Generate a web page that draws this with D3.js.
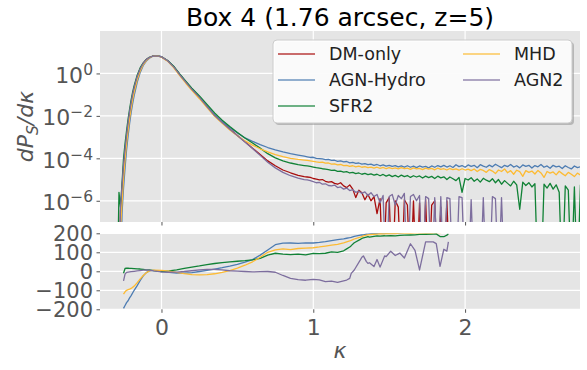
<!DOCTYPE html>
<html><head><meta charset="utf-8">
<script src="https://cdn.jsdelivr.net/npm/d3@7"></script>
<style>body{margin:0;background:#fff} svg{display:block;font-family:"DejaVu Sans",sans-serif}</style>
</head><body><svg id="c" width="587" height="370"></svg>
<script>
// ---------------- data ----------------
const titleText = "Box 4 (1.76 arcsec, z=5)";
const seriesNames = ["DM-only", "AGN-Hydro", "SFR2", "MHD", "AGN2"];
const seriesColors = ["#a80d0d", "#4d7cb2", "#118236", "#fdbb33", "#7d6e9e"];

const xTicks = [0, 1, 2];
const yTopTickExps = [0, -2, -4, -6];
const yBottomTicks = [-200, -100, 0, 100, 200];

// convergence grid of the PDF (core part)
const kappaCore = [-0.29,-0.28,-0.27,-0.26,-0.25,-0.24,-0.23,-0.22,-0.21,-0.20,
  -0.19,-0.18,-0.16,-0.14,-0.12,-0.10,-0.08,-0.06,-0.04,-0.02,
  0.00,0.04,0.08,0.12,0.16,0.20,0.25,0.30,0.35,0.40,
  0.45,0.50,0.55,0.60,0.65,0.70,0.75,0.80,0.85,0.90,
  0.94];
// convergence grid of the PDF (tail part)
const kappaTail = [0.96,0.98,1.00,1.02,1.04,1.06,1.08,1.10,1.12,1.14,
  1.16,1.18,1.20,1.22,1.24,1.26,1.28,1.30,1.32,1.34,
  1.36,1.38,1.40,1.42,1.44,1.46,1.48,1.50,1.52,1.54,
  1.56,1.58,1.60,1.62,1.64,1.66,1.68,1.70,1.72,1.74,
  1.76,1.78,1.80,1.82,1.84,1.86,1.88,1.90,1.92,1.94,
  1.96,1.98,2.00,2.02,2.04,2.06,2.08,2.10,2.12,2.14,
  2.16,2.18,2.20,2.22,2.24,2.26,2.28,2.30,2.32,2.34,
  2.36,2.38,2.40,2.42,2.44,2.46,2.48,2.50,2.52,2.54,
  2.56,2.58,2.60,2.62,2.64,2.66,2.68,2.70,2.72,2.74,
  2.76];

// log10(dP/dkappa); null = empty bin
const logPdfDMCore = [null,null,-6.5,-5.5,-4.4,-3.6,-2.95,-2.35,-1.85,-1.4,
  -1.0,-0.68,-0.15,0.22,0.48,0.65,0.75,0.81,0.83,0.82,
  0.78,0.60,0.32,-0.05,-0.40,-0.74,-1.12,-1.55,-1.97,-2.30,
  -2.62,-2.92,-3.22,-3.52,-3.82,-4.12,-4.35,-4.55,-4.68,-4.80,
  -4.86];
const logPdfAGNHydroCore = [null,null,null,-6.6,-5.4,-4.45,-3.6,-2.95,-2.35,-1.85,
  -1.42,-1.05,-0.42,0.05,0.38,0.58,0.72,0.80,0.83,0.83,
  0.79,0.61,0.33,-0.04,-0.39,-0.73,-1.11,-1.53,-1.94,-2.26,
  -2.55,-2.80,-3.04,-3.20,-3.35,-3.49,-3.60,-3.70,-3.78,-3.85,
  -3.90];
const logPdfSFR2Core = [null,-5.6,-6.3,-5.2,-4.0,-3.3,-2.7,-2.15,-1.68,-1.25,
  -0.88,-0.58,-0.08,0.27,0.50,0.66,0.76,0.81,0.83,0.82,
  0.78,0.61,0.34,-0.02,-0.36,-0.69,-1.06,-1.46,-1.86,-2.20,
  -2.50,-2.78,-3.04,-3.28,-3.52,-3.78,-3.98,-4.12,-4.22,-4.30,
  -4.34];
const logPdfMHDCore = [null,null,-7.3,-6.1,-4.95,-4.05,-3.3,-2.68,-2.12,-1.65,
  -1.22,-0.88,-0.30,0.12,0.42,0.61,0.73,0.80,0.83,0.82,
  0.77,0.58,0.28,-0.10,-0.46,-0.80,-1.19,-1.61,-2.02,-2.35,
  -2.66,-2.94,-3.18,-3.38,-3.55,-3.70,-3.82,-3.92,-4.00,-4.05,
  -4.08];
const logPdfAGN2Core = [null,null,-6.3,-5.3,-4.3,-3.55,-2.9,-2.3,-1.8,-1.36,
  -0.97,-0.66,-0.14,0.22,0.48,0.65,0.75,0.81,0.83,0.82,
  0.78,0.60,0.31,-0.06,-0.41,-0.75,-1.13,-1.56,-1.98,-2.31,
  -2.63,-2.93,-3.23,-3.54,-3.86,-4.18,-4.45,-4.66,-4.82,-4.93,
  -5.00];

const logPdfDMTail = [-4.88,-4.90,-4.95,-4.98,-5.02,-5.00,-5.08,-5.12,-5.10,-5.18,
  -5.22,-5.15,-5.30,-5.38,-5.25,-5.45,-5.85,-5.50,-5.62,-5.95,
  -5.70,-6.00,-5.80,-6.60,-5.90,null,-6.10,-5.85,null,-6.00,
  -6.30,null,-5.95,-6.20,null,-6.00,null,-6.10,null,-5.95,
  null,-6.20,-6.00,null,-6.30,null,-6.00,null,null,null,
  null,null,null,null,null,null,null,null,null,null,
  null,null,null,null,null,null,null,null,null,null,
  null,null,null,null,null,null,null,null,null,null,
  null,null,null,null,null,null,null,null,null,null,
  null];
const logPdfAGNHydroTail = [-3.93,-3.96,-3.95,-4.00,-4.01,-4.03,-4.06,-4.05,-4.10,-4.09,
  -4.14,-4.12,-4.17,-4.15,-4.21,-4.19,-4.24,-4.22,-4.27,-4.25,
  -4.30,-4.27,-4.33,-4.29,-4.35,-4.31,-4.37,-4.33,-4.38,-4.34,
  -4.40,-4.36,-4.41,-4.35,-4.42,-4.37,-4.44,-4.36,-4.41,-4.38,
  -4.45,-4.36,-4.42,-4.34,-4.40,-4.33,-4.41,-4.35,-4.43,-4.30,
  -4.39,-4.34,-4.42,-4.31,-4.38,-4.33,-4.44,-4.30,-4.37,-4.42,
  -4.32,-4.40,-4.28,-4.36,-4.44,-4.33,-4.39,-4.29,-4.41,-4.35,
  -4.45,-4.31,-4.38,-4.33,-4.46,-4.34,-4.40,-4.29,-4.42,-4.36,
  -4.47,-4.33,-4.40,-4.37,-4.48,-4.35,-4.43,-4.50,-4.36,-4.44,
  -4.40];
const logPdfSFR2Tail = [-4.36,-4.38,-4.41,-4.44,-4.46,-4.49,-4.51,-4.53,-4.57,-4.56,
  -4.61,-4.60,-4.65,-4.63,-4.69,-4.66,-4.72,-4.69,-4.75,-4.71,
  -4.77,-4.73,-4.79,-4.75,-4.82,-4.76,-4.84,-4.78,-4.86,-4.80,
  -4.88,-4.79,-4.86,-4.81,-4.90,-4.82,-4.88,-4.83,-4.93,-4.84,
  -4.91,-4.85,-4.95,-4.84,-4.92,-4.87,-5.00,-4.88,-4.96,-5.05,
  -4.90,-5.60,-4.95,-5.02,-4.91,-5.08,-4.97,-5.12,-4.94,-5.03,
  -5.10,-4.96,-5.15,-5.00,-5.22,-5.05,-5.18,-5.30,-5.08,-5.25,
  -6.40,-5.12,-5.28,-5.15,-5.35,-5.20,null,null,-5.22,-5.40,
  -5.18,-5.45,-5.25,-5.60,null,-5.30,-5.50,null,-5.35,null,
  -5.25];
const logPdfMHDTail = [-4.10,-4.12,-4.14,-4.17,-4.19,-4.18,-4.23,-4.22,-4.27,-4.26,
  -4.31,-4.29,-4.34,-4.33,-4.38,-4.35,-4.40,-4.37,-4.42,-4.39,
  -4.44,-4.41,-4.46,-4.42,-4.47,-4.43,-4.49,-4.44,-4.48,-4.45,
  -4.50,-4.44,-4.49,-4.46,-4.52,-4.45,-4.50,-4.47,-4.53,-4.46,
  -4.51,-4.47,-4.54,-4.46,-4.52,-4.49,-4.55,-4.48,-4.53,-4.50,
  -4.56,-4.49,-4.55,-4.51,-4.58,-4.50,-4.62,-4.52,-4.57,-4.66,
  -4.53,-4.60,-4.72,-4.55,-4.62,-4.50,-4.68,-4.58,-4.75,-4.56,
  -4.63,-4.85,-4.58,-4.66,-4.60,-4.74,-4.57,-4.69,-4.90,-4.62,
  -4.70,-4.64,-4.78,-4.61,-4.72,-4.82,-4.66,-4.75,-4.86,-4.70,
  -4.78];
const logPdfAGN2Tail = [-5.02,-5.05,-5.10,-5.15,-5.13,-5.22,-5.20,-5.28,-5.30,-5.26,
  -5.38,-5.35,-5.45,-5.40,-5.52,-5.48,-5.60,-5.55,-5.65,-5.58,
  -5.75,-5.62,-5.80,-5.70,-6.10,-5.75,null,-5.80,-5.70,-6.20,
  -5.75,-5.90,-5.65,null,-5.80,-5.70,-6.00,-5.75,null,-5.80,
  -5.90,null,-5.85,null,-5.80,null,-5.85,-5.90,null,null,
  -5.80,-5.85,null,null,-5.95,null,null,null,-5.85,null,
  null,-5.80,-5.90,null,-5.85,null,null,null,null,null,
  null,null,null,null,null,null,null,null,null,null,
  null,null,null,null,null,null,null,null,null,null,
  null];

// relative difference to DM-only (per cent)
const kappaRatio = [-0.25,-0.24,-0.23,-0.22,-0.21,-0.20,-0.18,-0.16,-0.14,-0.12,
  -0.10,-0.08,-0.05,0.00,0.05,0.10,0.15,0.20,0.25,0.30,
  0.35,0.40,0.45,0.50,0.55,0.60,0.65,0.70,0.75,0.80,
  0.85,0.90,0.95,1.00,1.04,1.08,1.12,1.16,1.20,1.22,
  1.24,1.25,1.27,1.31,1.32,1.33,1.35,1.36,1.37,1.40,
  1.42,1.44,1.47,1.48,1.51,1.54,1.57,1.60,1.64,1.67,
  1.70,1.74,1.79,1.81,1.835,1.86,1.88,1.89];
const ratioAGNHydro = [-195,-180,-165,-155,-140,-128,-100,-75,-48,-24,
  -7,2,5,-1,-6,-9,-10,-7,-1,5,
  12,19,27,36,48,62,85,112,140,148,
  149,147,150,149,152,156,162,167,171,174,
  177,179,184,190,191,192,195,196,197,199,
  200,201,202,201,203,204,203,205,206,205,
  207,208,207,209,208,210,209,211];
const ratioSFR2 = [-10,15,17,16,15,15,14,13,12,10,
  8,7,3,-2,2,8,15,22,28,35,
  41,46,50,53,56,60,68,85,95,90,
  88,90,86,94,93,95,102,100,108,118,
  128,135,150,168,173,176,180,182,180,184,
  186,185,187,186,188,186,189,190,191,192,
  194,195,196,197,183,182,190,197];
const ratioMHD = [-120,-108,-100,-97,-94,-90,-78,-60,-40,-22,
  -8,2,6,5,1,-6,-12,-17,-19,-17,
  -13,-6,4,17,32,50,74,100,113,118,
  114,120,122,124,128,133,138,142,150,155,
  160,163,170,180,183,186,190,192,193,195,
  196,198,197,199,200,199,201,202,201,203,
  202,204,203,205,204,206,205,207];
const ratioAGN2 = [-50,-15,-6,-4,-3,-2,0,2,4,6,
  7,6,2,-3,-5,-4,-1,3,7,10,
  10,7,3,1,-1,-3,-2,-1,-5,-22,
  -37,-44,-47,-42,-45,-54,-52,-58,-50,-46,
  -37,-11,7,60,74,81,51,42,45,25,
  62,22,81,77,106,83,96,70,145,110,
  7,155,155,146,26,116,106,155];

// ---------------- drawing ----------------
const svg = d3.select('#c');
const L = 100, R = 580, T1 = 31, B1 = 222, T2 = 233.3, B2 = 309.3;
const tickColor = '#555555';
const tickFont = 21;

const x = d3.scaleLinear().domain([-0.405, 2.757]).range([L, R]);
const yTop = d3.scaleLog().domain([1e-7, 1e2]).range([B1, T1]);
const yBot = d3.scaleLinear().domain([-200, 200]).range([B2, T2]);

const defs = svg.append('defs');
defs.append('clipPath').attr('id', 'clipTop').append('rect')
  .attr('x', L).attr('y', T1).attr('width', R - L).attr('height', B1 - T1);
defs.append('clipPath').attr('id', 'clipBot').append('rect')
  .attr('x', L).attr('y', T2).attr('width', R - L).attr('height', B2 - T2);

// panel backgrounds
svg.append('rect').attr('x', L).attr('y', T1).attr('width', R - L).attr('height', B1 - T1).attr('fill', '#e5e5e5');
svg.append('rect').attr('x', L).attr('y', T2).attr('width', R - L).attr('height', B2 - T2).attr('fill', '#e5e5e5');

// grids
const gridTop = svg.append('g').attr('stroke', '#fff').attr('stroke-width', 1.2);
yTopTickExps.forEach(e => {
  gridTop.append('line').attr('x1', L).attr('x2', R).attr('y1', yTop(Math.pow(10, e))).attr('y2', yTop(Math.pow(10, e)));
});
xTicks.forEach(t => {
  gridTop.append('line').attr('x1', x(t)).attr('x2', x(t)).attr('y1', T1).attr('y2', B1);
});
const gridBot = svg.append('g').attr('stroke', '#fff').attr('stroke-width', 1.2);
yBottomTicks.forEach(t => {
  gridBot.append('line').attr('x1', L).attr('x2', R).attr('y1', yBot(t)).attr('y2', yBot(t));
});
xTicks.forEach(t => {
  gridBot.append('line').attr('x1', x(t)).attr('x2', x(t)).attr('y1', T2).attr('y2', B2);
});

// PDF lines
const coreSets = [logPdfDMCore, logPdfAGNHydroCore, logPdfSFR2Core, logPdfMHDCore, logPdfAGN2Core];
const tailSets = [logPdfDMTail, logPdfAGNHydroTail, logPdfSFR2Tail, logPdfMHDTail, logPdfAGN2Tail];
const kappaAll = kappaCore.concat(kappaTail);
const below = B1 + 60;
const lineTop = d3.line()
  .x(d => x(d.k))
  .y(d => d.v === null ? below : yTop(Math.pow(10, d.v)));
const gTop = svg.append('g').attr('clip-path', 'url(#clipTop)');
seriesNames.forEach((name, i) => {
  const vals = coreSets[i].concat(tailSets[i]);
  const pts = kappaAll.map((k, j) => ({k: k, v: vals[j]}));
  pts.unshift({k: -0.45, v: null});
  gTop.append('path').attr('d', lineTop(pts)).attr('fill', 'none')
    .attr('stroke', seriesColors[i]).attr('stroke-width', 1.3).attr('stroke-linejoin', 'round');
});

// ratio lines
const ratioSets = [null, ratioAGNHydro, ratioSFR2, ratioMHD, ratioAGN2];
const lineBot = d3.line().x(d => x(d.k)).y(d => yBot(d.v));
const gBot = svg.append('g').attr('clip-path', 'url(#clipBot)');
seriesNames.forEach((name, i) => {
  if (!ratioSets[i]) return;
  const pts = kappaRatio.map((k, j) => ({k: k, v: ratioSets[i][j]}));
  gBot.append('path').attr('d', lineBot(pts)).attr('fill', 'none')
    .attr('stroke', seriesColors[i]).attr('stroke-width', 1.3).attr('stroke-linejoin', 'round');
});

// axes
function styleAxis(g) {
  g.select('.domain').remove();
  g.selectAll('.tick line').attr('stroke', tickColor).attr('stroke-width', 1);
  g.selectAll('.tick text').attr('fill', tickColor).attr('font-family', '"DejaVu Sans", sans-serif');
}
// top panel x ticks (no labels)
svg.append('g').attr('transform', `translate(0,${B1})`)
  .call(d3.axisBottom(x).tickValues(xTicks).tickSize(3.5).tickFormat(''))
  .call(styleAxis);
// bottom panel x axis
svg.append('g').attr('transform', `translate(0,${B2})`)
  .call(d3.axisBottom(x).tickValues(xTicks).tickSize(3.5).tickPadding(6.5).tickFormat(d3.format('d')))
  .call(styleAxis)
  .call(g => g.selectAll('.tick text').attr('font-size', tickFont + 1));
// top panel y axis (log)
svg.append('g').attr('transform', `translate(${L},0)`)
  .call(d3.axisLeft(yTop).tickValues(yTopTickExps.map(e => Math.pow(10, e))).tickSize(3.5).tickPadding(3.5).tickFormat(d => String(d)))
  .call(styleAxis)
  .call(g => g.selectAll('.tick text').each(function(d) {
    const e = Math.round(Math.log10(d));
    const t = d3.select(this);
    t.text(null).attr('font-size', tickFont + 1).attr('dy', '0.4em');
    t.append('tspan').text('10');
    t.append('tspan').attr('font-size', 15.5).attr('dy', -8).text(e < 0 ? '\u2212' + Math.abs(e) : String(e));
  }));
// bottom panel y axis
svg.append('g').attr('transform', `translate(${L},0)`)
  .call(d3.axisLeft(yBot).tickValues(yBottomTicks).tickSize(3.5).tickPadding(3.5)
    .tickFormat(d => d < 0 ? '\u2212' + Math.abs(d) : String(d)))
  .call(styleAxis)
  .call(g => g.selectAll('.tick text').attr('font-size', tickFont).attr('dy', '0.36em'));

// title
svg.append('text').attr('x', (L + R) / 2).attr('y', 26).attr('text-anchor', 'middle')
  .attr('font-size', 25).attr('fill', '#000').text(titleText);

// axis labels
const yl = svg.append('text').attr('transform', `translate(33,${(T1 + B1) / 2}) rotate(-90)`)
  .attr('text-anchor', 'middle').attr('font-size', 22).attr('fill', tickColor).attr('font-style', 'italic');
yl.append('tspan').text('dP');
yl.append('tspan').attr('font-size', 15.5).attr('dy', 5).text('S');
yl.append('tspan').attr('dy', -5).text('/d\u03ba');
svg.append('text').attr('x', (L + R) / 2).attr('y', 358).attr('text-anchor', 'middle')
  .attr('font-size', 22).attr('fill', tickColor).attr('font-style', 'italic').text('\u03ba');

// legend
const lg = svg.append('g');
lg.append('rect').attr('x', 275).attr('y', 42).attr('width', 299).attr('height', 83).attr('rx', 4)
  .attr('fill', '#8a8a8a').attr('opacity', 0.5);
lg.append('rect').attr('x', 273).attr('y', 40).attr('width', 299).attr('height', 83).attr('rx', 4)
  .attr('fill', '#fff').attr('fill-opacity', 0.92).attr('stroke', '#cccccc').attr('stroke-width', 1);
const legPos = [[278, 54], [278, 80], [278, 106], [463, 54], [463, 80]];
seriesNames.forEach((name, i) => {
  const [lx, ly] = legPos[i];
  lg.append('line').attr('x1', lx).attr('x2', lx + 37).attr('y1', ly).attr('y2', ly)
    .attr('stroke', seriesColors[i]).attr('stroke-width', 1.5).attr('opacity', 0.8);
  lg.append('text').attr('x', lx + 51).attr('y', ly).attr('dy', '0.36em')
    .attr('font-size', 17.5).attr('fill', '#222').text(name);
});
</script>
</body></html>
